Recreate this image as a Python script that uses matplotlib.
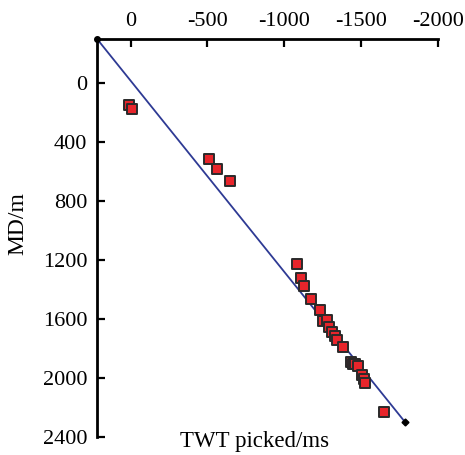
import numpy as np
import matplotlib.pyplot as plt

plt.rcParams['font.family'] = ['Liberation Serif', 'DejaVu Serif']
plt.rcParams['axes.unicode_minus'] = False

# picked TWT (ms) vs measured depth (m)
twt = [9, -8, -511, -560, -647, -1082, -1106, -1125, -1175, -1234, -1251, -1277,
       -1294, -1312, -1333, -1342, -1381, -1437, -1446, -1463, -1481, -1507,
       -1520, -1528, -1647]
md = [153, 178, 515, 585, 669, 1227, 1320, 1376, 1464, 1539, 1614, 1609,
      1654, 1688, 1715, 1740, 1790, 1889, 1907, 1903, 1921, 1982,
      2005, 2034, 2228]

# fitted trend line end points
fit_x = [217, -1786]
fit_y = [-294, 2298]

fig = plt.figure(figsize=(4.65, 4.55), dpi=100)
ax = fig.add_axes([0.209, 0.039, 0.733, 0.875])

ax.plot(fit_x, fit_y, color='#2e3a94', lw=1.3, zorder=2)
ax.plot(fit_x[0], fit_y[0], 'o', color='black', ms=4, zorder=4, clip_on=False)
ax.plot(fit_x[1], fit_y[1], 'D', color='black', ms=3.5, zorder=4, clip_on=False)
ax.scatter(twt, md, marker='s', s=60, facecolor='#e8252b', edgecolor='#2a2a2a',
           linewidth=1.4, zorder=3)

ax.set_xlim(217, -2000)
ax.set_ylim(2400, -294)
ax.set_xticks([0, -500, -1000, -1500, -2000])
ax.set_yticks([0, 400, 800, 1200, 1600, 2000, 2400])

ax.xaxis.tick_top()
ax.spines['right'].set_visible(False)
ax.spines['bottom'].set_visible(False)
ax.spines['top'].set_linewidth(2)
ax.spines['left'].set_linewidth(2)
ax.tick_params(axis='both', direction='in', length=6, width=1.6, labelsize=16)
ax.tick_params(axis='x', pad=6)
ax.tick_params(axis='y', pad=7)

fig.text(0.039, 0.508, 'MD/m', rotation=90, ha='center', va='center', fontsize=17)
fig.text(0.547, 0.029, 'TWT picked/ms', ha='center', va='center', fontsize=16.5)

fig.savefig('out.png', dpi=100)
